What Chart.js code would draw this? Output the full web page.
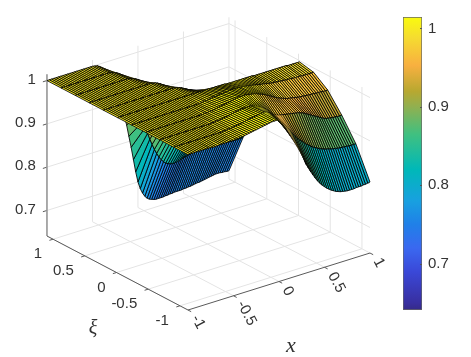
<!DOCTYPE html>
<html>
<head>
<meta charset="utf-8">
<title>Surface</title>
<script src="https://cdn.jsdelivr.net/npm/chart.js@4"></script>
<style>
  html, body { margin: 0; padding: 0; background: #fff; }
  #wrap { position: relative; width: 471px; height: 357px; overflow: hidden; }
  canvas { position: absolute; top: 0; }
  #surface { left: 0; }
  #colorbar { left: 395px; }
</style>
</head>
<body>
<div id="wrap">
  <canvas id="surface" width="471" height="357"></canvas>
  <canvas id="colorbar" width="76" height="357"></canvas>
</div>
<script>
// x grid runs -1 to 1 in steps of 0.025, each row below has one value per x
const xGrid = [
  -1,-.975,-.95,-.925,-.9,-.875,-.85,-.825,-.8,-.775,
  -.75,-.725,-.7,-.675,-.65,-.625,-.6,-.575,-.55,-.525,
  -.5,-.475,-.45,-.425,-.4,-.375,-.35,-.325,-.3,-.275,
  -.25,-.225,-.2,-.175,-.15,-.125,-.1,-.075,-.05,-.025,
  0,.025,.05,.075,.1,.125,.15,.175,.2,.225,
  .25,.275,.3,.325,.35,.375,.4,.425,.45,.475,
  .5,.525,.55,.575,.6,.625,.65,.675,.7,.725,
  .75,.775,.8,.825,.85,.875,.9,.925,.95,.975,
  1
];
const xiGrid = [-1.127,-.904,-.682,-.46,-.238,-.016,.207,.429,.651,.873,1.096];

const zRow0 = [
  1,1,1,1,1,1,1,1,1,1,
  .999,.999,.999,.999,1,1,1,1,1,1,
  1,1.001,1.001,1.002,1.002,1.003,1.004,1.005,1.006,1.007,
  1.008,1.009,1.01,1.011,1.012,1.013,1.014,1.015,1.015,1.015,
  1.012,1.006,.998,.989,.979,.969,.959,.949,.939,.928,
  .917,.906,.891,.881,.871,.862,.853,.845,.838,.832,
  .827,.822,.818,.814,.811,.808,.806,.804,.803,.802,
  .801,.801,.801,.801,.802,.802,.802,.803,.803,.804,
  .805
];
const zRow1 = [
  1,1,1,1,1,1,1,1,1,1,
  1,1,1,1,1,1,1,1,1,1,
  1,1,1.001,1.001,1.002,1.002,1.003,1.004,1.005,1.006,
  1.007,1.008,1.009,1.01,1.011,1.012,1.013,1.014,1.015,1.015,
  1.015,1.013,1.01,1.006,1.001,.996,.99,.984,.977,.97,
  .963,.955,.947,.94,.933,.927,.922,.917,.912,.908,
  .904,.9,.897,.894,.891,.889,.887,.885,.884,.882,
  .881,.88,.879,.878,.878,.877,.877,.876,.876,.876,
  .876
];
const zRow2 = [
  1,1,1,1,1,1,1,1,1,1,
  1,1,1,1,1,1,1,1,1,1,
  1,1,1,1.001,1.001,1.002,1.002,1.003,1.004,1.005,
  1.006,1.007,1.008,1.009,1.01,1.011,1.012,1.012,1.012,1.012,
  1.012,1.01,1.008,1.006,1.003,1,.996,.992,.987,.981,
  .976,.973,.971,.97,.969,.968,.967,.966,.965,.964,
  .963,.962,.96,.958,.955,.952,.949,.946,.943,.94,
  .937,.934,.931,.929,.928,.927,.926,.926,.925,.925,
  .925
];
const zRow3 = [
  1,1,1,1,1,1,1,1,1,1,
  1,1,1,1,1,1,1,1,1,1,
  1,1,1,1,1,1,1.001,1.001,1.002,1.002,
  1.003,1.004,1.005,1.006,1.007,1.008,1.009,1.01,1.011,1.012,
  1.013,1.014,1.014,1.014,1.014,1.013,1.012,1.011,1.01,1.008,
  1.006,1.004,1.002,.999,.996,.993,.99,.987,.984,.982,
  .98,.978,.976,.975,.974,.973,.972,.971,.97,.97,
  .969,.969,.968,.968,.968,.967,.967,.967,.966,.966,
  .966
];
const zRow4 = [
  1,1,1,1,1,1,1,1,1,1,
  1,1,1,1,1,1,1,1,1,1,
  1,1,1,1,1,1,1,1,1,1,
  1,1.001,1.002,1.002,1.003,1.004,1.005,1.005,1.006,1.007,
  1.007,1.008,1.008,1.009,1.009,1.009,1.009,1.009,1.008,1.008,
  1.007,1.006,1.005,1.004,1.003,1.002,1.001,1,.999,.998,
  .997,.996,.995,.995,.994,.994,.993,.993,.992,.992,
  .992,.991,.991,.991,.991,.99,.99,.99,.99,.99,
  .99
];
const zRow5 = [
  1,1,1,1,1,1,1,1,1,1,
  1,1,1,1,1,1,1,1,1,1,
  1,1,1,1,1,1,1,1,1,1,
  1,1,1,1,1,1,1,1,1,1,
  1,1,1,1,1,1,1,1,.999,.999,
  .999,.999,.999,.999,.999,.999,.999,.999,.999,.999,
  .998,.998,.998,.998,.998,.998,.998,.998,.998,.998,
  .998,.998,.998,.998,.998,.997,.997,.997,.997,.997,
  .997
];
const zRow6 = [
  1,1,1,1,1,1,1,1,1,1,
  1,1,1,1,1,1,1,1,1,1,
  1,1,1,1,1,1,1,1,1,1,
  1,1,.999,.998,.996,.993,.99,.987,.984,.981,
  .979,.977,.975,.973,.972,.971,.97,.97,.969,.969,
  .968,.968,.968,.968,.967,.967,.967,.967,.967,.967,
  .966,.966,.966,.966,.966,.966,.966,.966,.966,.966,
  .966,.965,.965,.965,.965,.965,.965,.965,.965,.965,
  .965
];
const zRow7 = [
  1,1,1,1,1,1,1,1,1,1,
  1,1,1,1,1,1,1,1,1,1,
  1,1,1,1,1,1,1,1,.999,.998,
  .996,.993,.989,.985,.98,.975,.97,.964,.958,.952,
  .946,.94,.935,.93,.925,.921,.917,.914,.911,.909,
  .907,.905,.904,.903,.902,.901,.9,.9,.899,.899,
  .899,.899,.899,.899,.899,.899,.899,.899,.9,.9,
  .9,.9,.9,.9,.9,.9,.9,.9,.9,.9,
  .9
];
const zRow8 = [
  1,1,1,1,1,1,1,1,1,1,
  1,1,1,1,1,1,1,1,1,1,
  1,1,1,1,.999,.998,.996,.993,.989,.984,
  .978,.971,.963,.954,.944,.933,.921,.909,.897,.885,
  .874,.864,.855,.847,.84,.834,.829,.825,.822,.819,
  .817,.816,.815,.814,.813,.813,.813,.813,.813,.814,
  .814,.815,.815,.816,.816,.817,.817,.818,.819,.819,
  .82,.821,.822,.823,.824,.825,.826,.827,.828,.829,
  .83
];
const zRow9 = [
  1,1,1,1,1,1,1,1,1,1,
  1,1,1,1,1,1,1,1,1,1,
  1,1,.999,.998,.996,.993,.989,.983,.975,.965,
  .953,.94,.926,.911,.896,.88,.864,.848,.833,.818,
  .804,.791,.78,.77,.762,.756,.751,.748,.746,.745,
  .745,.746,.747,.749,.751,.752,.754,.755,.756,.757,
  .757,.757,.757,.757,.756,.756,.756,.756,.755,.755,
  .755,.755,.755,.755,.755,.754,.754,.754,.754,.754,
  .754
];
const zRow10 = [
  1,1,1,1,1,1,1,1,1,1,
  1,1,1,1,1,1,1,1,1,1,
  1,.999,.998,.995,.99,.983,.975,.966,.955,.943,
  .93,.915,.897,.88,.862,.84,.812,.785,.755,.725,
  .7,.683,.671,.662,.656,.652,.65,.648,.647,.647,
  .647,.647,.648,.648,.649,.649,.65,.65,.65,.65,
  .651,.651,.652,.652,.653,.654,.655,.655,.656,.657,
  .658,.659,.66,.661,.662,.662,.662,.661,.661,.66,
  .66
];
const zRows = [zRow0, zRow1, zRow2, zRow3, zRow4, zRow5, zRow6, zRow7, zRow8, zRow9, zRow10];

const xTicks = [-1, -0.5, 0, 0.5, 1];
const xiTicks = [1, 0.5, 0, -0.5, -1];
const zTicks = [0.7, 0.8, 0.9, 1];
const colorTicks = [0.7, 0.8, 0.9, 1];
const zMin = 0.641;
const zMax = 1.0146;
const xiFront = -1.127;
const xiBack = 1.096;

// colormap stops, position from bottom to top
const mapStops = [0, .024, .131, .211, .292, .372, .48, .6, .693, .747, .835, .93, 1];
const mapColors = ['#352a87', '#382fa0', '#3a48d8', '#3a68f0', '#2080e8', '#18a0e0', '#00b8b8', '#40c080', '#90b050', '#b8a830', '#f8b040', '#f5dc30', '#f9fb0e'];

function hexToRgb(hex) {
    return [1, 3, 5].map(i => parseInt(hex.substr(i, 2), 16));
}

function colorFor(z) {
    const t = Math.min(1, Math.max(0, (z - zMin) / (zMax - zMin)));
    let i = 0;
    while (i < mapStops.length - 2 && t > mapStops[i + 1]) i++;
    const f = (t - mapStops[i]) / (mapStops[i + 1] - mapStops[i]);
    const a = hexToRgb(mapColors[i]);
    const b = hexToRgb(mapColors[i + 1]);
    const c = a.map((v, k) => Math.round(v + (b[k] - v) * f));
    return `rgb(${c[0]},${c[1]},${c[2]})`;
}

// fixed view of the 3D box, gives the plane position on the hidden scales
function project(x, xi, z) {
    return {
        x: 207.5 + 91 * x - 63.45 * xi,
        y: 244 - 28.5 * x - 33.3 * xi - (z - zMin) * 433
    };
}

function lineSet(a, b, color, width) {
    return {
        data: [a, b],
        showLine: true,
        fill: false,
        borderColor: color,
        borderWidth: width,
        pointRadius: 0
    };
}

// facets seen nearly edge-on get a thinner edge, otherwise they turn solid black
function edgeWidth(p1, p2, p4) {
    const area = Math.abs((p2.x - p1.x) * (p4.y - p1.y) - (p2.y - p1.y) * (p4.x - p1.x));
    return 0.85 * Math.min(1, Math.max(0.25, area / 18));
}

const datasets = [];

// first dataset is painted last, so nearest facets go in first
for (let i = 0; i < xiGrid.length - 1; i++) {
    for (let j = 0; j < xGrid.length - 1; j++) {
        const p1 = project(xGrid[j], xiGrid[i], zRows[i][j]);
        const p2 = project(xGrid[j + 1], xiGrid[i], zRows[i][j + 1]);
        const p3 = project(xGrid[j + 1], xiGrid[i + 1], zRows[i + 1][j + 1]);
        const p4 = project(xGrid[j], xiGrid[i + 1], zRows[i + 1][j]);
        datasets.push({
            data: [p1, p2, p3, p4, p1],
            showLine: true,
            fill: 'shape',
            backgroundColor: colorFor(zRows[i][j]),
            borderColor: '#000',
            borderWidth: edgeWidth(p1, p2, p4),
            pointRadius: 0
        });
    }
}

const gridColor = '#e4e4e4';
const axisColor = '#5a5a5a';

// box axes and tick marks
datasets.push(lineSet(project(-1, xiBack, zMin), project(-1, xiFront, zMin), axisColor, 1));
datasets.push(lineSet(project(-1, xiFront, zMin), project(1, xiFront, zMin), axisColor, 1));
datasets.push(lineSet(project(-1, xiBack, zMin), project(-1, xiBack, zMax), '#9a9a9a', 1.6));
xTicks.forEach(v => datasets.push(lineSet(project(v, xiFront, zMin), project(v, xiFront - 0.05, zMin), axisColor, 1)));
xiTicks.forEach(v => datasets.push(lineSet(project(-1, v, zMin), project(-1.04, v, zMin), axisColor, 1)));
zTicks.forEach(v => datasets.push(lineSet(project(-1, xiBack, v), project(-1.045, xiBack, v), axisColor, 1)));

// walls and floor grid
xTicks.forEach(v => {
    datasets.push(lineSet(project(v, xiFront, zMin), project(v, xiBack, zMin), gridColor, 1));
    datasets.push(lineSet(project(v, xiBack, zMin), project(v, xiBack, zMax), gridColor, 1));
});
xiTicks.forEach(v => {
    datasets.push(lineSet(project(-1, v, zMin), project(1, v, zMin), gridColor, 1));
    datasets.push(lineSet(project(1, v, zMin), project(1, v, zMax), gridColor, 1));
});
zTicks.forEach(v => {
    datasets.push(lineSet(project(-1, xiBack, v), project(1, xiBack, v), gridColor, 1));
    datasets.push(lineSet(project(1, xiBack, v), project(1, xiFront, v), gridColor, 1));
});

const tickFont = '15px "Liberation Sans", Arial, sans-serif';
const textColor = '#333';

const axisText = {
    id: 'axisText',
    afterDraw(chart) {
        const { ctx, scales } = chart;
        const px = p => ({ x: scales.x.getPixelForValue(p.x), y: scales.y.getPixelForValue(p.y) });
        ctx.save();
        ctx.fillStyle = textColor;
        ctx.font = tickFont;
        ctx.textBaseline = 'middle';

        ctx.textAlign = 'right';
        zTicks.forEach(v => {
            const p = px(project(-1, xiBack, v));
            ctx.fillText(String(v), p.x - 11, p.y - 1);
        });
        xiTicks.forEach(v => {
            const p = px(project(-1, v, zMin));
            ctx.fillText(String(v), p.x - 11, p.y + 15);
        });

        ctx.textAlign = 'left';
        xTicks.forEach(v => {
            const p = px(project(v, xiFront, zMin));
            ctx.save();
            ctx.translate(p.x + 7, p.y + 6);
            ctx.rotate(62 * Math.PI / 180);
            ctx.fillText(String(v), 0, 0);
            ctx.restore();
        });

        ctx.textAlign = 'center';
        ctx.font = 'italic 22px "Liberation Serif", serif';
        ctx.fillText('x', 291, 346);
        ctx.font = 'italic 20px "Liberation Serif", serif';
        ctx.fillText('\u03BE', 93, 329);
        ctx.restore();
    }
};

new Chart(document.getElementById('surface'), {
    type: 'scatter',
    data: { datasets: datasets },
    options: {
        responsive: false,
        animation: false,
        events: [],
        layout: { padding: 0 },
        plugins: { legend: { display: false }, tooltip: { enabled: false } },
        scales: {
            x: { type: 'linear', min: 0, max: 471, display: false },
            y: { type: 'linear', min: 0, max: 357, reverse: true, display: false }
        }
    },
    plugins: [axisText]
});

// ticks sit inside the right edge of the colorbar
const innerTicks = {
    id: 'innerTicks',
    afterDatasetsDraw(chart) {
        const { ctx, chartArea, scales } = chart;
        ctx.save();
        ctx.strokeStyle = '#555';
        ctx.lineWidth = 1;
        colorTicks.forEach(v => {
            const y = Math.round(scales.y.getPixelForValue(v)) + 0.5;
            ctx.beginPath();
            ctx.moveTo(chartArea.right - 2, y);
            ctx.lineTo(chartArea.right, y);
            ctx.stroke();
        });
        ctx.restore();
    }
};

new Chart(document.getElementById('colorbar'), {
    type: 'bar',
    data: {
        labels: ['z'],
        datasets: [{
            data: [[zMin, zMax]],
            barPercentage: 1,
            categoryPercentage: 1,
            borderWidth: 1,
            borderColor: '#666',
            borderSkipped: false,
            backgroundColor: context => {
                const { chart } = context;
                if (!chart.chartArea) return mapColors[0];
                const g = chart.ctx.createLinearGradient(0, chart.chartArea.bottom, 0, chart.chartArea.top);
                mapColors.forEach((c, i) => g.addColorStop(mapStops[i], c));
                return g;
            }
        }]
    },
    options: {
        responsive: false,
        animation: false,
        events: [],
        layout: { padding: { left: 8, top: 17, bottom: 47, right: 0 } },
        plugins: { legend: { display: false }, tooltip: { enabled: false } },
        scales: {
            x: { display: false },
            y: {
                position: 'right',
                min: zMin,
                max: zMax,
                afterBuildTicks: scale => { scale.ticks = colorTicks.map(v => ({ value: v })); },
                afterFit: scale => { scale.width = 49; },
                grid: { display: false, drawTicks: false },
                border: { display: false },
                ticks: {
                    padding: 6,
                    color: textColor,
                    font: { family: '"Liberation Sans", Arial, sans-serif', size: 15 },
                    callback: v => String(v)
                }
            }
        }
    },
    plugins: [innerTicks]
});
</script>
</body>
</html>
